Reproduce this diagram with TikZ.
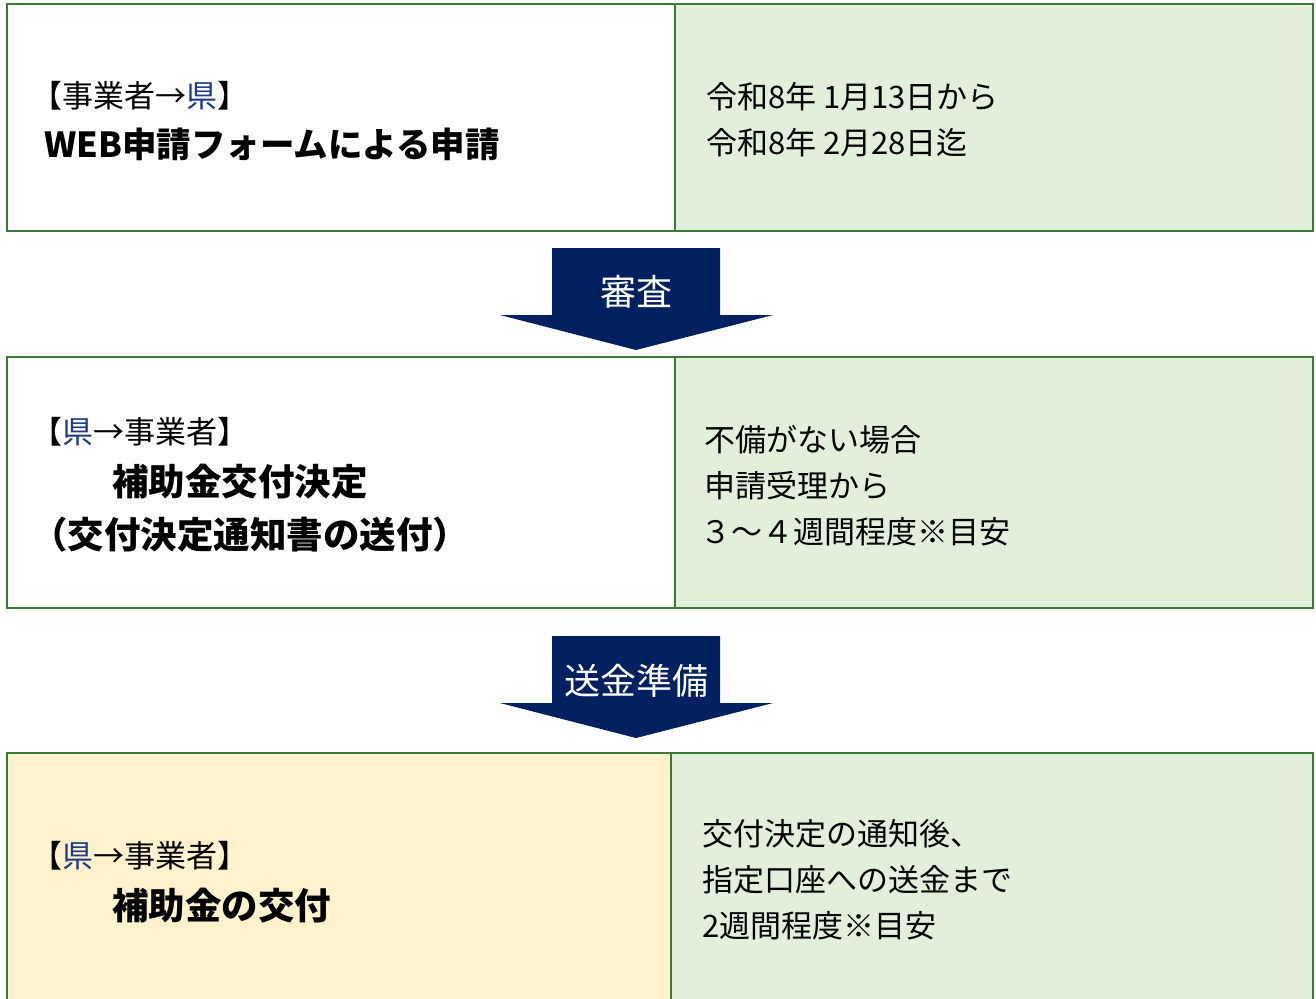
\documentclass[tikz,border=0pt]{standalone}
\usepackage{fontspec}
\setmainfont{Noto Sans CJK JP}
\usetikzlibrary{calc}
\definecolor{bordergreen}{HTML}{3A7A34}
\definecolor{cellgreen}{HTML}{E2EFDA}
\definecolor{cellyellow}{HTML}{FFF2CC}
\definecolor{navy}{HTML}{002060}
\definecolor{kenblue}{HTML}{1F3C88}
\tikzset{
  cell/.style={draw=bordergreen, line width=1.6pt, rectangle, inner sep=0pt, anchor=north west},
  txt/.style={anchor=west, inner sep=0pt, font=\fontsize{31}{36}\selectfont, text=black},
  btxt/.style={anchor=west, inner sep=0pt, font=\fontsize{36.5}{42}\selectfont\bfseries, text=black},
  arrowlabel/.style={inner sep=0pt, font=\fontsize{36}{40}\selectfont, text=white},
  flowarrow/.style={fill=navy, draw=none}
}
\begin{document}
\begin{tikzpicture}[x=1pt,y=-1pt]
\useasboundingbox (0,0) rectangle (1316,998);
\fill[white] (0,0) rectangle (1316,998);
\begin{scope}
\clip (0,0) rectangle (1316,998);
% row 1
\node[cell, fill=white, minimum width=668pt, minimum height=227pt] (r1l) at (6,3) {};
\node[cell, fill=cellgreen, minimum width=638pt, minimum height=227pt] (r1r) at (674,3) {};
% row 2
\node[cell, fill=white, minimum width=668pt, minimum height=251pt] (r2l) at (6,356) {};
\node[cell, fill=cellgreen, minimum width=638pt, minimum height=251pt] (r2r) at (674,356) {};
% row 3
\node[cell, fill=cellyellow, minimum width=664pt, minimum height=260pt] (r3l) at (6,752) {};
\node[cell, fill=cellgreen, minimum width=642pt, minimum height=260pt] (r3r) at (670,752) {};
\end{scope}
% arrows
\fill[flowarrow] (552,248) -- (720,248) -- (720,315) -- (773,315) -- (636,350) -- (500,315) -- (552,315) -- cycle;
\node[arrowlabel] (a1) at (636,292) {審査};
\fill[flowarrow] (552,636) -- (720,636) -- (720,703) -- (773,703) -- (636,738) -- (500,703) -- (552,703) -- cycle;
\node[arrowlabel] (a2) at (636,681) {送金準備};
% row 1 texts
\node[txt] (t11) at (31,96) {【事業者→\textcolor{kenblue}{県}】};
\node[btxt, font=\fontsize{34.5}{40}\selectfont\bfseries] (t12) at (44,144) {WEB申請フォームによる申請};
\node[txt] (t13) at (706,97) {令和8年 1月13日から};
\node[txt] (t14) at (706,143) {令和8年 2月28日迄};
% row 2 texts
\node[txt] (t21) at (31,432) {【\textcolor{kenblue}{県}→事業者】};
\node[btxt] (t22) at (112,482) {補助金交付決定};
\node[btxt] (t23) at (31,535) {（交付決定通知書の送付）};
\node[txt] (t24) at (704,440) {不備がない場合};
\node[txt] (t25) at (704,486) {申請受理から};
\node[txt] (t26) at (700,532) {３～４週間程度※目安};
% row 3 texts
\node[txt] (t31) at (31,856) {【\textcolor{kenblue}{県}→事業者】};
\node[btxt] (t32) at (112,906) {補助金の交付};
\node[txt] (t33) at (702,834) {交付決定の通知後、};
\node[txt] (t34) at (702,880) {指定口座への送金まで};
\node[txt] (t35) at (702,926) {2週間程度※目安};
\end{tikzpicture}
\end{document}
